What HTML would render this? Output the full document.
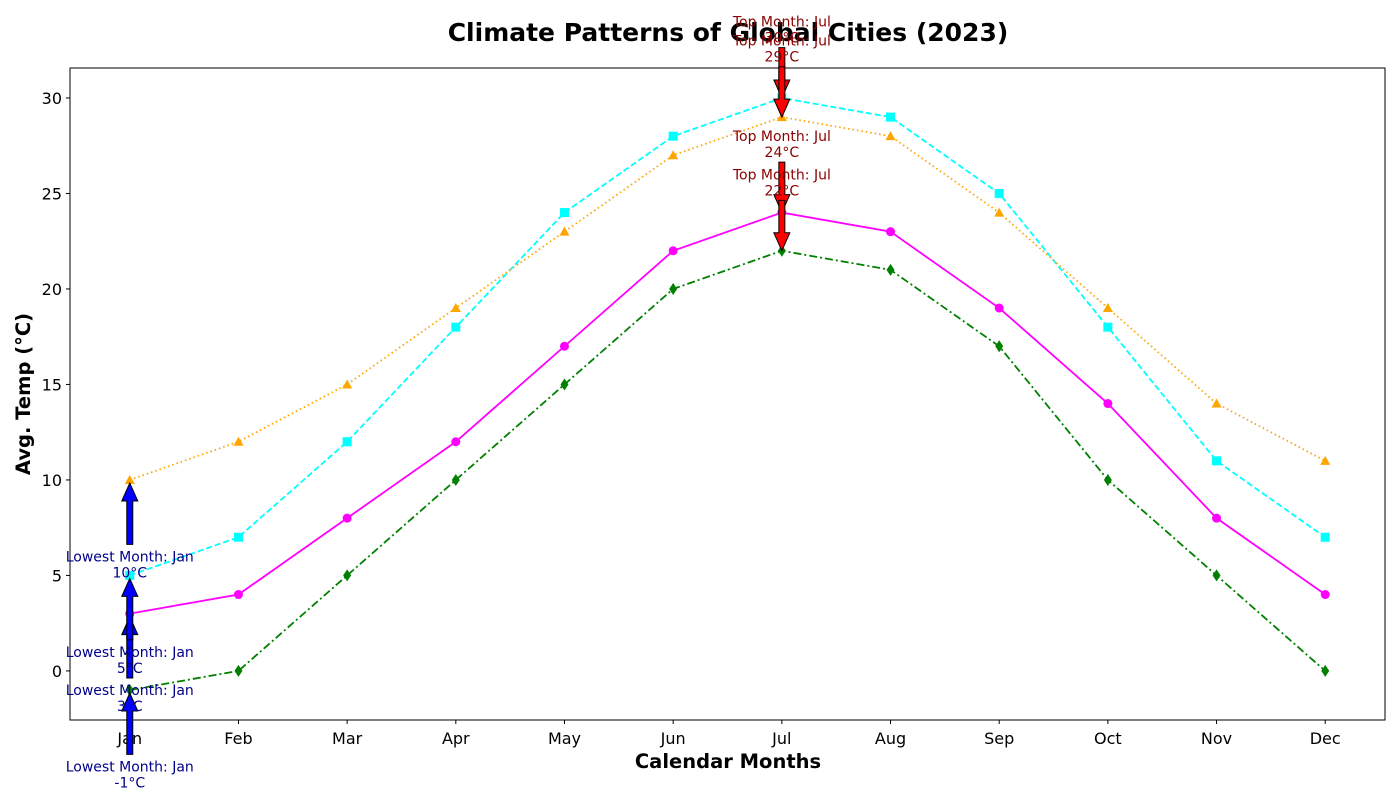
<!DOCTYPE html>
<html><head><meta charset="utf-8"><style>
body{margin:0;background:#fff;font-family:"DejaVu Sans",sans-serif}
svg text{font-family:"DejaVu Sans","Liberation Sans",sans-serif}
</style></head><body>
<svg id="chart" width="1400" height="800" xmlns="http://www.w3.org/2000/svg"></svg>
<script>
const months=["Jan","Feb","Mar","Apr","May","Jun","Jul","Aug","Sep","Oct","Nov","Dec"];
const cityA=[3,4,8,12,17,22,24,23,19,14,8,4];
const cityB=[5,7,12,18,24,28,30,29,25,18,11,7];
const cityC=[10,12,15,19,23,27,29,28,24,19,14,11];
const cityD=[-1,0,5,10,15,20,22,21,17,10,5,0];
const yTicks=[0,5,10,15,20,25,30];
const series=[
 {name:"city-a",vals:cityA,color:"magenta",dash:"",marker:"circle"},
 {name:"city-b",vals:cityB,color:"cyan",dash:"6,3",marker:"square"},
 {name:"city-c",vals:cityC,color:"orange",dash:"1.5,3",marker:"triangle"},
 {name:"city-d",vals:cityD,color:"green",dash:"8,3,2,3",marker:"diamond"}];
const L=70,R=1385,T=68,B=720,xmin=-0.55,xmax=11.55,ymin=-2.57,ymax=31.57;
const X=i=>L+(i-xmin)/(xmax-xmin)*(R-L);
const Y=v=>B-(v-ymin)/(ymax-ymin)*(B-T);
const svg=document.getElementById('chart');const NS="http://www.w3.org/2000/svg";
function el(t,a,p){const e=document.createElementNS(NS,t);for(const k in a)e.setAttribute(k,a[k]);(p||svg).appendChild(e);return e;}
function txt(s,a,p){const e=el('text',a,p);e.textContent=s;return e;}
let t=txt("Climate Patterns of Global Cities (2023)",{x:728,y:41,"text-anchor":"middle","font-size":25,"font-weight":"bold"});

const frame=el('rect',{x:L,y:T,width:R-L,height:B-T,fill:"none",stroke:"#000","stroke-width":1});

months.forEach((m,i)=>{el('line',{x1:X(i),x2:X(i),y1:B,y2:B+4,stroke:"#000"});
 const e=txt(m,{x:X(i),y:B+24,"text-anchor":"middle","font-size":16});
 });
yTicks.forEach(v=>{el('line',{x1:L-4,x2:L,y1:Y(v),y2:Y(v),stroke:"#000"});
 const e=txt(String(v),{x:L-8,y:Y(v)+6,"text-anchor":"end","font-size":16});
 });
t=txt("Calendar Months",{x:728,y:768,"text-anchor":"middle","font-size":19.5,"font-weight":"bold"});

t=txt("Avg. Temp (°C)",{x:30,y:394,"text-anchor":"middle","font-size":19.5,"font-weight":"bold",transform:"rotate(-90 30 394)"});

series.forEach(s=>{
 const g=el('g',{});
 el('polyline',{points:s.vals.map((v,i)=>X(i)+","+Y(v)).join(" "),fill:"none",stroke:s.color,"stroke-width":1.8,"stroke-dasharray":s.dash},g);
 s.vals.forEach((v,i)=>{const x=X(i),y=Y(v);let m;
  if(s.marker=="circle")m=el('circle',{cx:x,cy:y,r:4.5,fill:s.color},g);
  else if(s.marker=="square")m=el('rect',{x:x-4.5,y:y-4.5,width:9,height:9,fill:s.color},g);
  else if(s.marker=="triangle")m=el('polygon',{points:`${x},${y-5} ${x-5},${y+4} ${x+5},${y+4}`,fill:s.color},g);
  else m=el('polygon',{points:`${x},${y-6} ${x-4},${y} ${x},${y+6} ${x+4},${y}`,fill:s.color},g);
  });
});
function arrow(x,y1,y2,col){const d=y2>y1?1:-1;const hl=18,hw=8,sw=3;const hy=y2-d*hl;
 const a=el('polygon',{points:`${x-sw},${y1} ${x+sw},${y1} ${x+sw},${hy} ${x+hw},${hy} ${x},${y2} ${x-hw},${hy} ${x-sw},${hy}`,fill:col,stroke:"#000","stroke-width":1});
 return a;}
series.forEach(s=>{
 let mi=0,ma=0;s.vals.forEach((v,i)=>{if(v>s.vals[ma])ma=i;if(v<s.vals[mi])mi=i;});
 let v=s.vals[ma],ty=Y(v+4);
 let a=arrow(X(ma),ty+26,Y(v),"red");
 let e=txt("Top Month: "+months[ma],{x:X(ma),y:ty+5,"text-anchor":"middle","font-size":14,fill:"#8b0000"});
 
 txt(v+"°C",{x:X(ma),y:ty+21,"text-anchor":"middle","font-size":14,fill:"#8b0000"});
 v=s.vals[mi];ty=Y(v-4);
 a=arrow(X(mi),ty-12,Y(v)+3,"blue");
 e=txt("Lowest Month: "+months[mi],{x:X(mi),y:ty+5,"text-anchor":"middle","font-size":14,fill:"#00008b"});
 
 txt(v+"°C",{x:X(mi),y:ty+21,"text-anchor":"middle","font-size":14,fill:"#00008b"});
});
</script>
</body></html>
